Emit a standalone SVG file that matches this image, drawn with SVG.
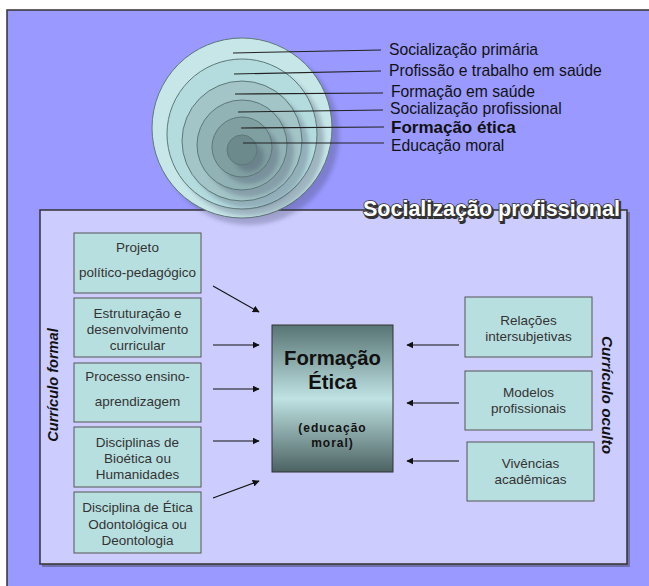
<svg xmlns="http://www.w3.org/2000/svg" width="649" height="586" viewBox="0 0 649 586">
<style>
.lbl{font-family:"Liberation Sans",Arial,sans-serif;font-size:15.7px;fill:#111}
.bx{fill:#b8dfe0;stroke:#555;stroke-width:1}
.bt{font-family:"Liberation Sans",Arial,sans-serif;font-size:13.5px;fill:#333;text-anchor:middle}
.ring{stroke:#5e7878;stroke-width:1}
.sh{fill:#3a3a5a;opacity:0.28}
.ll{stroke:#222;stroke-width:1.1}
.ar{stroke:#111;stroke-width:1.1;marker-end:url(#ah)}
.vt{font-family:"Liberation Sans",Arial,sans-serif;font-weight:bold;font-style:italic;fill:#111;text-anchor:middle}
</style>
<defs>
<marker id="ah" viewBox="0 0 10 10" refX="9" refY="5" markerWidth="7" markerHeight="7" markerUnits="userSpaceOnUse" orient="auto">
<path d="M0,0 L10,5 L0,10 z" fill="#111"/>
</marker>
<linearGradient id="cg" x1="0" y1="0" x2="0" y2="1">
<stop offset="0" stop-color="#587474"/>
<stop offset="0.5" stop-color="#bfe2e2"/>
<stop offset="1" stop-color="#4c6262"/>
</linearGradient>
<filter id="bl" x="-20%" y="-20%" width="140%" height="140%"><feGaussianBlur stdDeviation="2"/></filter>
</defs>
<rect x="7" y="10" width="660" height="600" fill="#9999ff" stroke="#333" stroke-width="1.5"/>
<g id="panel">
<rect x="42" y="212" width="588" height="355" fill="#555577" opacity="0.6"/>
<rect x="40" y="210" width="587" height="354" fill="#ccccff" stroke="#333" stroke-width="1.5"/>
</g>
<g id="circles">
<circle cx="249" cy="135" r="90" class="sh" filter="url(#bl)"/>
<circle cx="242" cy="128" r="90" fill="#c6e6e8" class="ring"/>
<circle cx="249" cy="141" r="75" class="sh" filter="url(#bl)"/>
<circle cx="242" cy="134" r="75" fill="#b4dcdf" class="ring"/>
<circle cx="249" cy="148" r="60" class="sh" filter="url(#bl)"/>
<circle cx="242" cy="141" r="60" fill="#a3c5c7" class="ring"/>
<circle cx="249" cy="152" r="45" class="sh" filter="url(#bl)"/>
<circle cx="242" cy="145" r="45" fill="#92b3b5" class="ring"/>
<circle cx="249" cy="154" r="30" class="sh" filter="url(#bl)"/>
<circle cx="242" cy="147" r="30" fill="#7f9fa1" class="ring"/>
<circle cx="249" cy="157" r="15" class="sh" filter="url(#bl)"/>
<circle cx="242" cy="150" r="15" fill="#6c8a8c" class="ring"/>
</g>
<g id="ring-labels">
<line x1="233" y1="53" x2="381" y2="50" class="ll"/>
<line x1="234" y1="74" x2="381" y2="71" class="ll"/>
<line x1="235" y1="94" x2="383" y2="93" class="ll"/>
<line x1="238" y1="112" x2="383" y2="110" class="ll"/>
<line x1="241" y1="128" x2="384" y2="127" class="ll"/>
<line x1="243" y1="143" x2="384" y2="143" class="ll"/>
<text x="389" y="55" class="lbl">Socialização primária</text>
<text x="389" y="76" class="lbl">Profissão e trabalho em saúde</text>
<text x="391" y="97" class="lbl">Formação em saúde</text>
<text x="390" y="113.5" class="lbl">Socialização profissional</text>
<text x="391" y="132.5" class="lbl" style="font-weight:bold;font-size:17px">Formação ética</text>
<text x="391" y="150.5" class="lbl">Educação moral</text>
</g>
<g id="title" font-family="'Liberation Sans',Arial,sans-serif" font-weight="bold" font-size="21.5px">
<text x="364.5" y="217.5" fill="#333" stroke="#333" stroke-width="2">Socialização profissional</text>
<text x="363" y="216" fill="#fff" stroke="#333" stroke-width="1.6" paint-order="stroke">Socialização profissional</text>
</g>
<g id="n1"><rect x="74" y="233" width="127" height="60" class="bx"/>
<text x="137.5" y="252" class="bt">Projeto</text><text x="137.5" y="277" class="bt">político-pedagógico</text></g>
<g id="n2"><rect x="74" y="298" width="127" height="59" class="bx"/>
<text x="137.5" y="318" class="bt">Estruturação e</text><text x="137.5" y="334" class="bt">desenvolvimento</text><text x="137.5" y="350" class="bt">curricular</text></g>
<g id="n3"><rect x="74" y="363" width="127" height="59" class="bx"/>
<text x="137.5" y="381" class="bt">Processo ensino-</text><text x="137.5" y="406" class="bt">aprendizagem</text></g>
<g id="n4"><rect x="74" y="427" width="127" height="60" class="bx"/>
<text x="137.5" y="447" class="bt">Disciplinas de</text><text x="137.5" y="463" class="bt">Bioética ou</text><text x="137.5" y="479" class="bt">Humanidades</text></g>
<g id="n5"><rect x="74" y="492" width="127" height="61" class="bx"/>
<text x="137.5" y="512" class="bt">Disciplina de Ética</text><text x="137.5" y="529" class="bt">Odontológica ou</text><text x="137.5" y="545" class="bt">Deontologia</text></g>
<g id="center"><rect x="272" y="325" width="121" height="147" fill="url(#cg)" stroke="#333" stroke-width="1"/>
<text x="332.5" y="365" text-anchor="middle" font-family="'Liberation Sans',Arial,sans-serif" font-weight="bold" font-size="20.3px" fill="#111">Formação</text>
<text x="332.5" y="389" text-anchor="middle" font-family="'Liberation Sans',Arial,sans-serif" font-weight="bold" font-size="20.3px" fill="#111">Ética</text>
<text x="332.5" y="432" text-anchor="middle" font-family="'Liberation Sans',Arial,sans-serif" font-weight="bold" font-size="12px" letter-spacing="1" fill="#111">(educação</text>
<text x="332.5" y="447" text-anchor="middle" font-family="'Liberation Sans',Arial,sans-serif" font-weight="bold" font-size="12px" letter-spacing="1" fill="#111">moral)</text></g>
<g id="r1"><rect x="465" y="297" width="127" height="60" class="bx"/>
<text x="528.5" y="325" class="bt">Relações</text><text x="528.5" y="341" class="bt">intersubjetivas</text></g>
<g id="r2"><rect x="465" y="371" width="127" height="59" class="bx"/>
<text x="528.5" y="397" class="bt">Modelos</text><text x="528.5" y="413" class="bt">profissionais</text></g>
<g id="r3"><rect x="467" y="442" width="127" height="59" class="bx"/>
<text x="530.5" y="468" class="bt">Vivências</text><text x="530.5" y="484" class="bt">acadêmicas</text></g>
<g id="side-labels">
<text class="vt" font-size="14.6px" transform="translate(58,385) rotate(-90)">Currículo formal</text>
<text class="vt" font-size="15.3px" transform="translate(602,395) rotate(90)">Currículo oculto</text>
</g>
<g id="connectors">
<line x1="213" y1="286" x2="259" y2="312" class="ar"/>
<line x1="213" y1="345" x2="259" y2="345" class="ar"/>
<line x1="213" y1="389" x2="259" y2="389" class="ar"/>
<line x1="213" y1="441" x2="259" y2="441" class="ar"/>
<line x1="213" y1="498" x2="259" y2="481" class="ar"/>
<line x1="459" y1="345" x2="407" y2="345" class="ar"/>
<line x1="459" y1="403" x2="407" y2="403" class="ar"/>
<line x1="459" y1="461" x2="407" y2="461" class="ar"/>
</g>
</svg>
